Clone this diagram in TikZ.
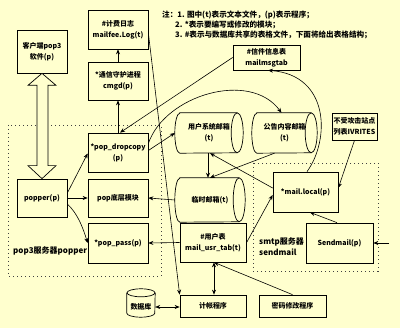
\documentclass[tikz,border=0pt]{standalone}
\usepackage{fontspec}
\setmainfont{Noto Sans CJK SC}
\usetikzlibrary{arrows.meta,calc}
\definecolor{bgy}{RGB}{255,255,206}
\begin{document}
\begin{tikzpicture}[x=1pt,y=-1pt,
  bx/.style={draw, line width=0.7pt, inner sep=1pt, align=center, font=\fontsize{7}{11}\selectfont\bfseries},
  cylnode/.style={inner sep=0pt, align=center, font=\fontsize{7}{11}\selectfont\bfseries},
  cylline/.style={line width=0.7pt},
  lbl/.style={inner sep=0pt, anchor=west, font=\fontsize{7.6}{10}\selectfont\bfseries},
  biglbl/.style={inner sep=0pt, anchor=west, font=\fontsize{8}{10}\selectfont\bfseries},
  arr/.style={-{Stealth[length=5pt,width=4pt]}, line width=0.6pt},
  darr/.style={{Stealth[length=5pt,width=4pt]}-{Stealth[length=5pt,width=4pt]}, line width=0.6pt},
  dotline/.style={line width=0.6pt, dash pattern=on 1pt off 3pt, draw=black!75}
]
\fill[bgy] (0,0) rectangle (400,328);
\useasboundingbox (0,0) rectangle (400,328);

% dotted regions
\draw[dotline] (8,125) rectangle (161,276);
\draw[dotline] (253,163) rectangle (378,271);

% notes
\node[lbl] (n1) at (162,15) {注：1. 图中(t)表示文本文件，(p)表示程序；};
\node[lbl] (n2) at (175,25) {2. *表示要编写或修改的模块；};
\node[lbl] (n3) at (175,35) {3. \#表示与数据库共享的表格文件，下面将给出表格结构；};

% boxes
\node[bx, minimum width=50, minimum height=43] (client) at (42,51.5) {客户端pop3\\软件(p)};
\node[bx, minimum width=60, minimum height=39] (log) at (118,29.5) {\#计费日志\\mailfee.Log(t)};
\node[bx, minimum width=60, minimum height=38] (cmgd) at (118,81) {*通信守护进程\\cmgd(p)};
\node[bx, minimum width=60, minimum height=39] (drop) at (118,152.5) {*pop\_dropcopy\\(p)};
\node[bx, minimum width=50, minimum height=38] (popper) at (42,198) {popper(p)};
\node[bx, minimum width=60, minimum height=38] (poplow) at (118,198) {pop底层模块};
\node[bx, minimum width=60, minimum height=40] (poppass) at (118,243) {*pop\_pass(p)};
\node[bx, minimum width=67, minimum height=25] (msg) at (266.5,57.5) {\#信件信息表\\mailmsgtab};
\node[bx, minimum width=45, minimum height=27] (ivr) at (354.5,126.5) {不受攻击站点\\列表IVRITES};
\node[bx, minimum width=65, minimum height=40] (local) at (305.5,192) {*mail.local(p)};
\node[bx, minimum width=67, minimum height=40] (send) at (339.5,243) {Sendmail(p)};
\node[bx, minimum width=66, minimum height=39] (usrtab) at (213,242.5) {\#用户表\\mail\_usr\_tab(t)};
\node[bx, minimum width=66, minimum height=22] (jz) at (213,306) {计帐程序};
\node[bx, minimum width=67, minimum height=22] (pwd) at (292.5,306) {密码修改程序};

% cylinders (horizontal)
\node[cylnode, minimum width=68, minimum height=40] (user) at (209,133) {用户系统邮箱\\(t)};
\node[cylnode, minimum width=65, minimum height=40] (bull) at (284.5,133) {公告内容邮箱\\(t)};
\node[cylnode, minimum width=70, minimum height=44] (temp) at (210,200) {临时邮箱(t)};
\foreach \c/\ry in {user/20pt, bull/20pt, temp/22pt}{
  \draw[cylline] ($(\c.north west)+(5pt,0)$) -- ($(\c.north east)+(-6pt,0)$)
     arc[start angle=90,end angle=-90,x radius=6pt,y radius=\ry]
     -- ($(\c.south west)+(5pt,0)$)
     arc[start angle=270,end angle=90,x radius=5pt,y radius=\ry] -- cycle;
  \draw[cylline] ($(\c.north east)+(-6pt,0)$) arc[start angle=90,end angle=270,x radius=6pt,y radius=\ry];
}

% database cylinder (vertical)
\node[cylnode, minimum width=28, minimum height=28] (db) at (141,303) {};
\node[cylnode] (dbt) at (141,307) {数据库};
\draw[cylline] ($(db.north west)+(0,-4pt)$) -- ($(db.south west)+(0,4pt)$)
   arc[start angle=180,end angle=360,x radius=14pt,y radius=4pt] -- ($(db.north east)+(0,-4pt)$);
\draw[cylline] ($(db.north)+(0,-4pt)$) ellipse [x radius=14pt, y radius=4pt];

% free labels
\node[biglbl] (smtp1) at (259,242) {smtp服务器};
\node[biglbl] (smtp2) at (259,252.5) {sendmail};
\node[biglbl] (pop3l) at (13,251) {pop3服务器popper};

% hollow double arrow client <-> popper
\draw[line width=0.7pt, fill=bgy] (client.south) -- ++(14pt,-12pt) -- ++(-8pt,0) -- ($(popper.north)+(6pt,13pt)$)
  -- ++(8pt,0) -- (popper.north) -- ++(-14pt,13pt) -- ++(9pt,0) -- ($(client.south)+(-5pt,-12pt)$) -- ++(-9pt,0) -- cycle;

% connectors
\draw[arr] (cmgd.north) -- (log.south);
\draw[arr] (drop.north) -- (cmgd.south);
\draw[arr] (msg.west) -- ($(drop.north)+(2pt,0)$);
\draw[arr] ($(drop.east)+(0,9pt)$) .. controls (165,95) and (250,70) .. ($(bull.north)+(-3pt,0)$);
\draw[arr] ($(drop.east)+(0,2pt)$) -- (user.west);
\draw[arr] ($(popper.east)+(0,5pt)$) -- ($(drop.west)+(0,-1pt)$);
\draw[arr] (popper.east) -- (poplow.west);
\draw[arr] ($(popper.east)+(0,-6pt)$) .. controls (78,214) and (83,228) .. (poppass.west);
\draw[arr] (temp.west) -- (poplow.east);
\draw[arr] (usrtab.west) -- (poppass.east);
\draw[arr] ($(user.south)+(-1pt,0)$) -- ($(temp.north)+(-2pt,0)$);
\draw[arr] ($(bull.south)+(-10pt,0)$) -- (temp.north);
\draw[arr] ($(local.west)+(0,4pt)$) -- ($(user.south)+(1pt,0)$);
\draw[arr] ($(local.north)+(1.5pt,0)$) .. controls (330,140) and (330,75) .. ($(msg.south)+(1.5pt,0)$);
\draw[arr] ($(usrtab.east)+(0,-0.5pt)$) -- ($(local.west)+(0,-3pt)$);
\draw[arr] ($(send.north)+(-2.5pt,0)$) -- ($(local.south)+(4.5pt,0)$);
\draw[arr] (ivr.south) -- ($(local.east)+(0,4pt)$);
\coordinate (ext) at (389,243);
\draw[arr] (ext) -- (send.east);
\draw[darr] ($(usrtab.south)+(1pt,0)$) -- ($(jz.north)+(1pt,0)$);
\draw[arr] (pwd.north) -- ($(usrtab.south)+(1pt,0)$);
\draw[darr] ($(db.east)+(0,-4pt)$) -- ($(jz.west)+(0,-1pt)$);
\draw[arr] ($(log.east)+(0,-3.5pt)$) -- (jz.north west);
\end{tikzpicture}
\end{document}
